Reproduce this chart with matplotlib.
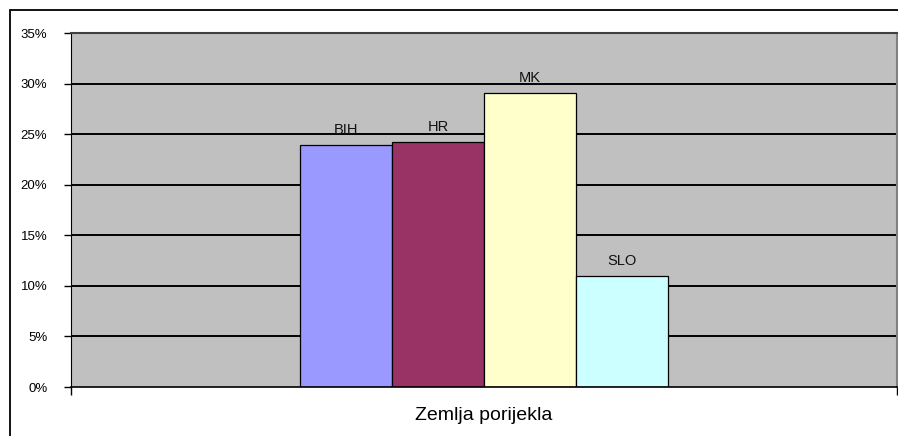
import matplotlib.pyplot as plt
from matplotlib.patches import Rectangle
from matplotlib.ticker import FuncFormatter

# podaci
zemlje = ['BIH', 'HR', 'MK', 'SLO']
udjeli = [23.9, 24.2, 29.1, 11.0]
boje = ['#9999FF', '#993366', '#FFFFCC', '#CCFFFF']
os_x_naziv = 'Zemlja porijekla'
y_oznake = [0, 5, 10, 15, 20, 25, 30, 35]

plt.rcParams['font.family'] = ['Liberation Sans', 'DejaVu Sans']

fig = plt.figure(figsize=(8.98, 4.36), dpi=100)
W, H = 898, 436
ax = fig.add_axes([71 / W, (H - 387) / H, 826 / W, 354 / H])
ax.set_facecolor('#C0C0C0')

# okvir grafikona
fig.patches.append(Rectangle((10 / W, -0.1), 1.2, (H - 10) / H + 0.1,
                             transform=fig.transFigure, fill=False,
                             edgecolor='black', linewidth=1.3, clip_on=False))

# mreza
for v in y_oznake[1:-1]:
    ax.axhline(v, color='black', linewidth=1.4, zorder=1)

x = [i - 1.5 for i in range(len(zemlje))]
ax.bar(x, udjeli, width=1.0, color=boje, edgecolor='black', linewidth=0.9, zorder=2)

for xi, v, z in zip(x, udjeli, zemlje):
    ax.annotate(z, (xi, v), xytext=(0, 8), textcoords='offset points',
                ha='center', va='baseline', fontsize=10.5, color='#111111')

ax.set_xlim(-4.49, 4.49)
ax.set_ylim(0, 35)
ax.set_yticks(y_oznake)
ax.yaxis.set_major_formatter(FuncFormatter(lambda v, p: f'{v:.0f}%'))
ax.tick_params(axis='y', direction='out', length=5, width=1, pad=12, labelsize=9.5)
ax.set_xticks([-4.49, 4.49])
ax.set_xticklabels([])
ax.tick_params(axis='x', direction='out', length=6, width=1)

for s in ['top', 'right']:
    ax.spines[s].set_color('#808080')
    ax.spines[s].set_linewidth(1.5)
ax.spines['left'].set_color('black')
ax.spines['bottom'].set_color('black')
ax.spines['bottom'].set_linewidth(1.2)
ax.spines['top'].set_color('#404040')

fig.text(484 / W, 1 - 415 / H, os_x_naziv, ha='center', va='center', fontsize=14)

fig.savefig('out.png', dpi=100)
